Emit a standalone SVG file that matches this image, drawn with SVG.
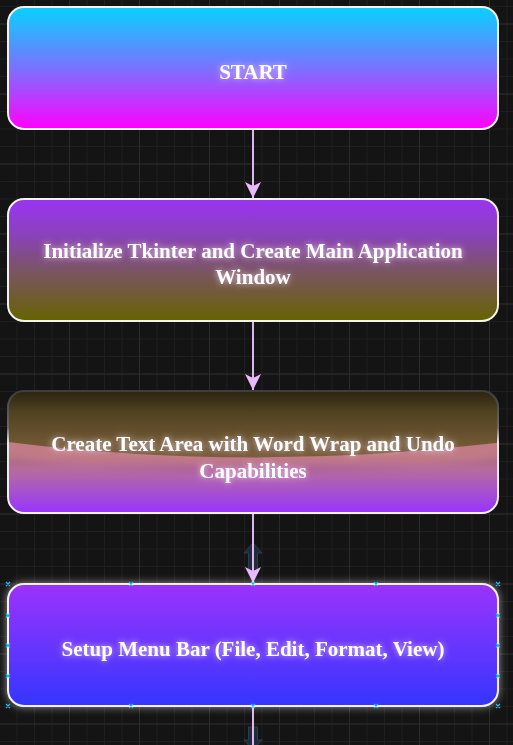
<svg xmlns="http://www.w3.org/2000/svg" width="513" height="745" viewBox="0 0 513 745">
<defs>
<pattern id="gMinor" patternUnits="userSpaceOnUse" x="-1" y="6" width="17.5" height="17.5">
<rect x="0" y="0" width="1" height="17.5" fill="#1f1f1f"/>
<rect x="0" y="0" width="17.5" height="1" fill="#1f1f1f"/>
</pattern>
<pattern id="gMajor" patternUnits="userSpaceOnUse" x="69" y="23.5" width="70" height="70">
<rect x="0" y="0" width="1" height="70" fill="#2b2b2b"/>
<rect x="0" y="0" width="70" height="1" fill="#2b2b2b"/>
</pattern>
<linearGradient id="g1" x1="0" y1="0" x2="0" y2="1">
<stop offset="0" stop-color="#08d2ff"/>
<stop offset="0.5" stop-color="#7a72ff"/>
<stop offset="1" stop-color="#ff00ff"/>
</linearGradient>
<linearGradient id="g2" x1="0" y1="0" x2="0" y2="1">
<stop offset="0" stop-color="#9a34f2"/>
<stop offset="0.3" stop-color="#8a42b8"/>
<stop offset="0.6" stop-color="#7a5560"/>
<stop offset="1" stop-color="#666300"/>
</linearGradient>
<linearGradient id="g3" x1="0" y1="0" x2="0" y2="1">
<stop offset="0" stop-color="#c4807a"/>
<stop offset="0.55" stop-color="#c07a86"/>
<stop offset="0.8" stop-color="#a855c8"/>
<stop offset="1" stop-color="#9933ff"/>
</linearGradient>
<linearGradient id="g3top" x1="0" y1="0" x2="0" y2="1">
<stop offset="0" stop-color="#2a2310"/>
<stop offset="0.3" stop-color="#4f4120"/>
<stop offset="0.75" stop-color="#6e5632"/>
<stop offset="1" stop-color="#7a5c3c"/>
</linearGradient>
<linearGradient id="g3stroke" x1="0" y1="0" x2="0" y2="1">
<stop offset="0" stop-color="#3e3e3e"/>
<stop offset="0.3" stop-color="#6a6a6a"/>
<stop offset="0.42" stop-color="#e8e8e8"/>
<stop offset="1" stop-color="#f2f2f2"/>
</linearGradient>
<linearGradient id="g4" x1="0" y1="0" x2="0" y2="1">
<stop offset="0" stop-color="#9c33fc"/>
<stop offset="1" stop-color="#3535ff"/>
</linearGradient>
<clipPath id="c3"><rect x="8" y="391" width="490" height="122" rx="16"/></clipPath>
<filter id="glow" x="-20%" y="-60%" width="140%" height="220%">
<feGaussianBlur in="SourceAlpha" stdDeviation="3" result="b"/>
<feFlood flood-color="#ffe8ff" flood-opacity="0.75"/>
<feComposite in2="b" operator="in" result="s"/>
<feMerge><feMergeNode in="s"/><feMergeNode in="SourceGraphic"/></feMerge>
</filter>
<filter id="boxglow" x="-10%" y="-30%" width="120%" height="160%">
<feGaussianBlur in="SourceAlpha" stdDeviation="4" result="b"/>
<feFlood flood-color="#ffffff" flood-opacity="0.55"/>
<feComposite in2="b" operator="in" result="s"/>
<feMerge><feMergeNode in="s"/><feMergeNode in="SourceGraphic"/></feMerge>
</filter>
<filter id="soft" x="-10%" y="-50%" width="120%" height="200%">
<feGaussianBlur stdDeviation="3"/>
</filter>
<marker id="arr" markerUnits="userSpaceOnUse" markerWidth="20" markerHeight="20" viewBox="0 0 20 20" refX="17" refY="10" orient="auto">
<path d="M17 10 L1 2 L5 10 L1 18 Z" fill="#e8b8f8"/>
</marker>
<style>
.node rect.box{stroke:#f2f2f2;stroke-width:2}
.lbl{font-family:"Liberation Serif","Times New Roman",serif;font-weight:bold;font-size:21px;fill:#ffffff;text-anchor:middle}
.edge{stroke:#e0b4f2;stroke-width:2;fill:none}
.hov{fill:#1d2c38;stroke:#2c3e4c;stroke-width:1}
.hx{stroke:#29b6f2;stroke-width:1.3}
</style>
</defs>
<rect width="513" height="745" fill="#141414"/>
<rect width="513" height="745" fill="url(#gMinor)"/>
<rect width="513" height="745" fill="url(#gMajor)"/>

<g id="hover-arrows">
<path class="hov" d="M253 543 L262 553 L257.5 553 L257.5 572 L248.5 572 L248.5 553 L244 553 Z"/>
<path class="hov" d="M248.5 727 L257.5 727 L257.5 740 L262 740 L253 750 L244 740 L248.5 740 Z"/>
</g>

<g id="connectors">
<path class="edge" d="M253 129 L253 198" marker-end="url(#arr)"/>
<path class="edge" d="M253 321 L253 390" marker-end="url(#arr)"/>
<path class="edge" d="M253 513 L253 583" marker-end="url(#arr)"/>
<path class="edge" d="M253 706 L253 745"/>
</g>

<g id="node-start" class="node">
<rect class="box" x="8" y="7" width="490" height="122" rx="16" fill="url(#g1)"/>
<text class="lbl" x="253" y="79" filter="url(#glow)">START</text>
</g>

<g id="node-init" class="node">
<rect class="box" x="8" y="199" width="490" height="122" rx="16" fill="url(#g2)"/>
<text class="lbl" x="253" y="258" filter="url(#glow)">Initialize Tkinter and Create Main Application</text>
<text class="lbl" x="253" y="284" filter="url(#glow)">Window</text>
</g>

<g id="node-text" class="node">
<rect x="8" y="391" width="490" height="122" rx="16" fill="url(#g3)"/>
<g clip-path="url(#c3)">
<path d="M0 470 Q253 505 513 470 L513 480 L0 480 Z" fill="#8a4a80" opacity="0.25" filter="url(#soft)" transform="translate(0,-14)"/>
<path d="M0 391 L513 391 L513 441 Q253 474 0 441 Z" fill="url(#g3top)"/>
</g>
<rect x="8" y="391" width="490" height="122" rx="16" fill="none" stroke="url(#g3stroke)" stroke-width="2"/>
<text class="lbl" x="253" y="451" filter="url(#glow)">Create Text Area with Word Wrap and Undo</text>
<text class="lbl" x="253" y="478" filter="url(#glow)">Capabilities</text>
</g>

<g id="node-menu" class="node">
<rect class="box" x="8" y="584" width="490" height="122" rx="16" fill="url(#g4)" filter="url(#boxglow)"/>
<text class="lbl" x="253" y="656" filter="url(#glow)">Setup Menu Bar (File, Edit, Format, View)</text>
</g>

<g id="handles" class="hx">
<path d="M6 582l4 4m0-4l-4 4M129 582l4 4m0-4l-4 4M251 582l4 4m0-4l-4 4M374 582l4 4m0-4l-4 4M496 582l4 4m0-4l-4 4"/>
<path d="M6 704l4 4m0-4l-4 4M129 704l4 4m0-4l-4 4M251 704l4 4m0-4l-4 4M374 704l4 4m0-4l-4 4M496 704l4 4m0-4l-4 4"/>
<path d="M6 613.5l4 4m0-4l-4 4M6 643.5l4 4m0-4l-4 4M6 674l4 4m0-4l-4 4"/>
<path d="M496 613.5l4 4m0-4l-4 4M496 643.5l4 4m0-4l-4 4M496 674l4 4m0-4l-4 4"/>
</g>
</svg>
